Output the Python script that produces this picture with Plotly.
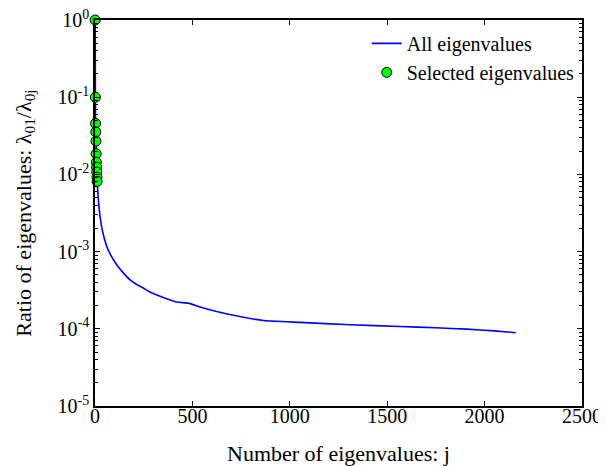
import plotly.graph_objects as go

# Data
all_j = [1, 2, 3, 4, 5, 6, 7, 8, 9, 10, 11, 15, 22, 34, 43, 60, 75, 94, 120, 145, 180,
         214, 248, 282, 325, 368, 419, 479, 539, 624, 744, 864, 1052, 1309, 1566, 1750,
         1908, 2050, 2160]
all_ratio = [1.0, 0.1, 0.0457, 0.0355, 0.027, 0.0185, 0.0144, 0.0124, 0.0107, 0.0092, 0.0081,
             0.0056, 0.0035, 0.0021, 1.65e-3, 1.17e-3, 9.6e-4, 7.9e-4, 6.3e-4, 5.3e-4, 4.3e-4,
             3.75e-4, 3.37e-4, 3.0e-4, 2.7e-4, 2.45e-4, 2.22e-4, 2.15e-4, 1.92e-4,
             1.68e-4, 1.44e-4, 1.28e-4, 1.21e-4, 1.13e-4, 1.07e-4, 1.03e-4, 9.9e-5, 9.4e-5,
             8.9e-5]

sel_j = [1, 2, 3, 4, 5, 6, 7, 8, 9, 10, 11]
sel_ratio = [1.0, 0.1, 0.0457, 0.0355, 0.027, 0.0185, 0.0144, 0.0124, 0.0107, 0.0092, 0.0081]

x_ticks = [0, 500, 1000, 1500, 2000, 2500]
y_ticks = [1e-5, 1e-4, 1e-3, 1e-2, 1e-1, 1]
y_ticktext = ["10<sup>-5</sup>", "10<sup>-4</sup>", "10<sup>-3</sup>",
              "10<sup>-2</sup>", "10<sup>-1</sup>", "10<sup>0</sup>"]
y_minor = [m * 10 ** e for e in range(-5, 0) for m in range(2, 10)]

font_family = "Liberation Serif, Times New Roman, serif"

fig = go.Figure()
fig.add_trace(go.Scatter(x=all_j, y=all_ratio, mode="lines", name="All eigenvalues",
                         line=dict(color="#0000ff", width=1.6, shape="spline", smoothing=0.5)))
fig.add_trace(go.Scatter(x=sel_j, y=sel_ratio, mode="markers", name="Selected eigenvalues",
                         marker=dict(color="#00ff00", size=10,
                                     line=dict(color="black", width=1)),
                         cliponaxis=False))

# the page body adds an 8px offset, so the figure is 8px smaller and margins shifted
fig.update_layout(
    width=598, height=458,
    margin=dict(l=87, r=24, t=12, b=60, autoexpand=False),
    paper_bgcolor="white", plot_bgcolor="white",
    font=dict(family=font_family, size=20, color="black"),
    showlegend=True,
    legend=dict(x=0.558, y=0.99, xanchor="left", yanchor="top",
                bgcolor="rgba(0,0,0,0)", font=dict(size=20),
                tracegroupgap=0, itemwidth=30),
    xaxis=dict(range=[0, 2500], tickvals=x_ticks, ticks="inside", ticklen=5,
               showline=True, linecolor="black", linewidth=1.5, mirror="ticks",
               showgrid=False, zeroline=False, tickcolor="black", automargin=False,
               tickfont=dict(size=20), ticklabelstandoff=-9, ticklabeloverflow="allow",
               title=dict(text="Number of eigenvalues: j", font=dict(size=22), standoff=25)),
    yaxis=dict(type="log", range=[-5, 0], tickvals=y_ticks, ticktext=y_ticktext,
               ticks="inside", ticklen=5, tickcolor="black", automargin=False,
               tickfont=dict(size=20), ticklabeloverflow="allow",
               minor=dict(tickvals=y_minor, ticks="inside", ticklen=3, tickcolor="black",
                          showgrid=False),
               showline=True, linecolor="black", linewidth=1.5, mirror="ticks",
               showgrid=False, zeroline=False,
               title=dict(text="Ratio of eigenvalues: λ<sub>01</sub>/λ<sub>0j</sub>",
                          font=dict(size=22), standoff=20)),
)

fig.write_html("out.html")
